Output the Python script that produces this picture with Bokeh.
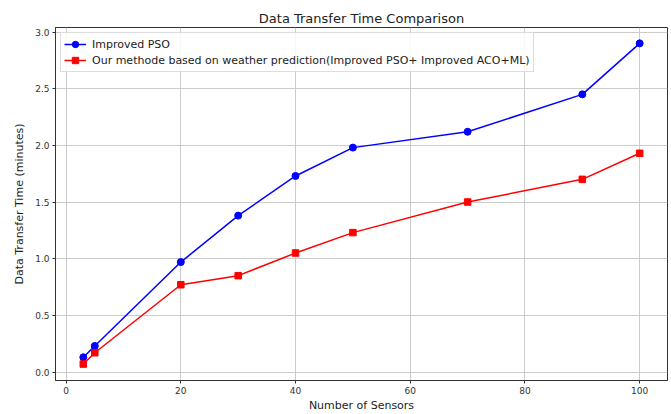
from bokeh.plotting import figure
from bokeh.models import Range1d, FixedTicker, Title
from bokeh.embed import file_html
from bokeh.resources import INLINE

sensors = [3, 5, 20, 30, 40, 50, 70, 90, 100]
improved_pso = [0.13, 0.23, 0.97, 1.38, 1.73, 1.98, 2.12, 2.45, 2.90]
our_method = [0.07, 0.17, 0.77, 0.85, 1.05, 1.23, 1.50, 1.70, 1.93]
x_ticks = [0, 20, 40, 60, 80, 100]
y_ticks = [0.0, 0.5, 1.0, 1.5, 2.0, 2.5, 3.0]

FONT = "DejaVu Sans"

p = figure(width=671, height=414, output_backend="svg", toolbar_location=None,
           x_range=Range1d(-1.85, 104.85), y_range=Range1d(-0.075, 3.04),
           min_border_left=55, min_border_right=4, min_border_top=27, min_border_bottom=30)

p.title = None
p.add_layout(Title(text="Data Transfer Time Comparison", align="center",
                   text_font=FONT, text_font_size="13px", text_font_style="normal",
                   text_color="#222222", standoff=3), "above")

p.outline_line_color = "#333333"
p.outline_line_width = 1
p.background_fill_color = "white"
p.border_fill_color = "white"

for ax in (p.xaxis, p.yaxis):
    ax.axis_line_color = "#333333"
    ax.major_tick_line_color = "#333333"
    ax.minor_tick_line_color = None
    ax.major_tick_in = 0
    ax.major_tick_out = 3
    ax.major_label_standoff = 3
    ax.major_label_text_font = FONT
    ax.major_label_text_font_size = "9px"
    ax.major_label_text_color = "#333333"
    ax.axis_label_text_font = FONT
    ax.axis_label_text_font_size = "11px"
    ax.axis_label_text_font_style = "normal"
    ax.axis_label_text_color = "#222222"

p.xaxis.ticker = FixedTicker(ticks=x_ticks)
p.yaxis.ticker = FixedTicker(ticks=y_ticks)
p.yaxis.major_label_overrides = {v: f"{v:.1f}" for v in y_ticks}
p.xaxis.axis_label = "Number of Sensors"
p.yaxis.axis_label = "Data Transfer Time (minutes)"
p.xaxis.axis_label_standoff = 2
p.yaxis.axis_label_standoff = 6

p.grid.grid_line_color = "#cccccc"
p.grid.grid_line_width = 1

lbl1 = "Improved PSO"
lbl2 = "Our methode based on weather prediction(Improved PSO+ Improved ACO+ML)"
p.line(sensors, improved_pso, line_color="blue", line_width=1.5, legend_label=lbl1)
p.scatter(sensors, improved_pso, marker="circle", size=7, fill_color="blue",
          line_color="blue", legend_label=lbl1)
p.line(sensors, our_method, line_color="red", line_width=1.5, legend_label=lbl2)
p.scatter(sensors, our_method, marker="square", size=6.5, fill_color="red",
          line_color="red", legend_label=lbl2)

p.legend.location = "top_left"
p.legend.label_text_font = FONT
p.legend.label_text_font_size = "11px"
p.legend.label_text_color = "#222222"
p.legend.border_line_color = "#dddddd"
p.legend.border_line_alpha = 1
p.legend.background_fill_alpha = 0.85
p.legend.margin = 5
p.legend.padding = 3
p.legend.spacing = 0
p.legend.glyph_width = 22
p.legend.glyph_height = 16
p.legend.label_height = 16
p.legend.label_standoff = 6

open("out.html", "w").write(file_html(p, INLINE))
